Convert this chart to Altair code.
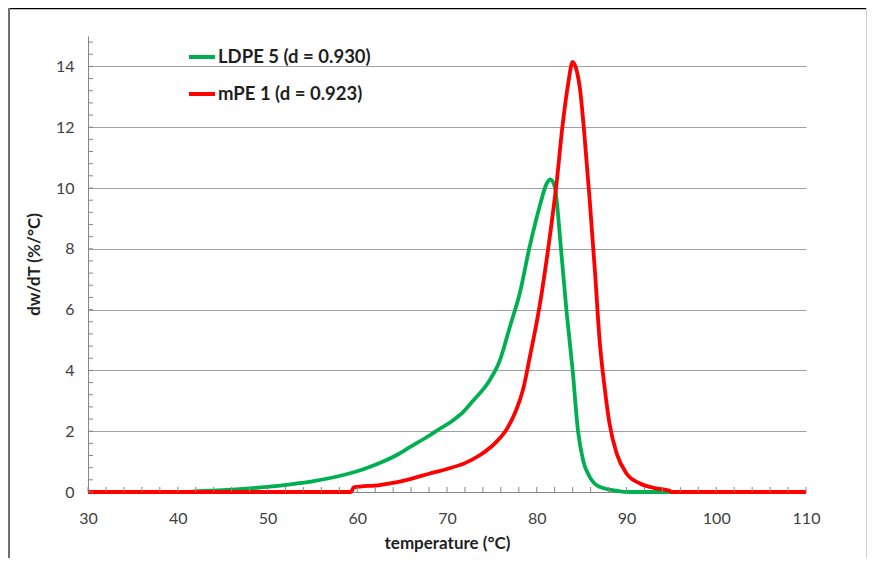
import altair as alt
import pandas as pd

# ---- data ----
series_names = ["LDPE 5 (d = 0.930)", "mPE 1 (d = 0.923)"]
series_colors = ["#00B050", "#FF0000"]

ldpe_t = [30, 41, 42, 45, 48, 50, 53, 55, 57, 59, 60.6, 62.5, 64.3, 66, 68, 69.2, 70.5, 71.7,
          72.9, 74.7, 75.9, 77.0, 78.1, 79.2, 80.3, 81.1, 81.5, 82.0, 82.7, 83.3, 84.0, 84.6,
          85.2, 85.9, 87.0, 88.9, 90.5, 110]
ldpe_v = [0, 0, 0.02, 0.06, 0.12, 0.17, 0.27, 0.35, 0.46, 0.60, 0.74, 0.95, 1.20, 1.50, 1.85,
          2.08, 2.32, 2.60, 3.00, 3.65, 4.34, 5.43, 6.53, 8.06, 9.37, 10.14, 10.28, 10.05, 8.0,
          6.0, 4.0, 2.0, 1.0, 0.5, 0.17, 0.04, 0, 0]

mpe_t = [30, 59.3, 59.6, 62.5, 64, 66.2, 68, 69.9, 72, 73.6, 75.5, 76.6, 77.7, 78.5, 79.2, 80.3,
         81.4, 82.2, 82.9, 83.5, 84.0, 84.5, 84.8, 85.3, 85.9, 86.5, 87.0, 87.6, 88.1, 88.9,
         90.0, 91.5, 93.3, 94.8, 95, 110]
mpe_v = [0, 0, 0.15, 0.23, 0.30, 0.45, 0.60, 0.75, 0.95, 1.20, 1.65, 2.04, 2.69, 3.40, 4.40,
         6.09, 8.28, 10.14, 12.12, 13.43, 14.15, 13.8, 13.3, 11.79, 9.6, 7.19, 5.0, 3.35, 2.26,
         1.27, 0.61, 0.28, 0.12, 0.04, 0, 0]

y_labels = [0, 2, 4, 6, 8, 10, 12, 14]
x_labels = [30, 40, 50, 60, 70, 80, 90, 100, 110]
y_minor = [round(0.4 * i, 1) for i in range(0, 38)]
x_minor = [30 + 2 * i for i in range(0, 41)]

df = pd.concat([
    pd.DataFrame({"T": ldpe_t, "v": ldpe_v, "series": series_names[0]}),
    pd.DataFrame({"T": mpe_t, "v": mpe_v, "series": series_names[1]}),
])

W, H = 718, 456
PAD = {"left": 80, "top": 28, "right": 61, "bottom": 66}
x_scale = alt.Scale(domain=[30, 110], nice=False, zero=False)
y_scale = alt.Scale(domain=[0, 15], nice=False)
x_axis = alt.Axis(values=x_labels, title="temperature (°C)", grid=False, ticks=False,
                  labelFlush=False, labelPadding=18, titlePadding=9)
y_axis = alt.Axis(values=y_labels, title="dw/dT (%/°C)", grid=True, ticks=False,
                  labelFlush=False, labelPadding=14, titlePadding=12)

lines = alt.Chart(df).mark_line(strokeWidth=3.8, interpolate="monotone").encode(
    x=alt.X("T:Q", scale=x_scale, axis=x_axis),
    y=alt.Y("v:Q", scale=y_scale, axis=y_axis),
    color=alt.Color("series:N", sort=series_names,
                    scale=alt.Scale(domain=series_names, range=series_colors),
                    legend=alt.Legend(orient="none", legendX=99, legendY=6, title=None,
                                      symbolType="stroke", symbolSize=676, symbolStrokeWidth=4,
                                      labelFont="Lato", labelFontSize=18.5, labelFontWeight="bold",
                                      labelColor="#1f1f1f", rowPadding=12, padding=0,
                                      labelOffset=1, labelLimit=400)),
    order=alt.Order("T:Q"),
)

yticks = alt.Chart(pd.DataFrame({"v": y_minor})).mark_rule(color="#868686", strokeWidth=1).encode(
    y=alt.Y("v:Q", scale=y_scale, axis=y_axis),
    x=alt.value(0), x2=alt.value(5),
)
xticks = alt.Chart(pd.DataFrame({"T": x_minor})).mark_rule(color="#868686", strokeWidth=1).encode(
    x=alt.X("T:Q", scale=x_scale, axis=x_axis),
    y=alt.value(H), y2=alt.value(H - 5),
)

right_edge = W + PAD["right"] - 0.5
one = pd.DataFrame({"a": [0]})
frame_top = alt.Chart(one).mark_rule(color="#000000", strokeWidth=1.5).encode(
    x=alt.value(-80), x2=alt.value(right_edge + 1), y=alt.value(-27.5))
frame_left = alt.Chart(one).mark_rule(color="#6e6e6e", strokeWidth=2).encode(
    x=alt.value(-79), y=alt.value(-28), y2=alt.value(H + 70))
frame_right = alt.Chart(one).mark_rule(color="#cfcfcf", strokeWidth=1).encode(
    x=alt.value(right_edge), y=alt.value(-28), y2=alt.value(H + 70))

chart = alt.layer(lines, yticks, xticks, frame_top, frame_left, frame_right).properties(
    width=W, height=H,
    autosize=alt.AutoSizeParams(type="none"),
    padding=PAD,
).configure_view(stroke=None).configure_axis(
    labelFont="Lato", labelFontSize=16, labelColor="#404040",
    titleFont="Lato", titleFontSize=17, titleFontWeight="bold", titleColor="#1f1f1f",
    domainColor="#868686", domainWidth=1, gridColor="#a0a0a0", gridWidth=1,
)

chart.save("out.html", embed_options={"renderer": "svg", "actions": False})
